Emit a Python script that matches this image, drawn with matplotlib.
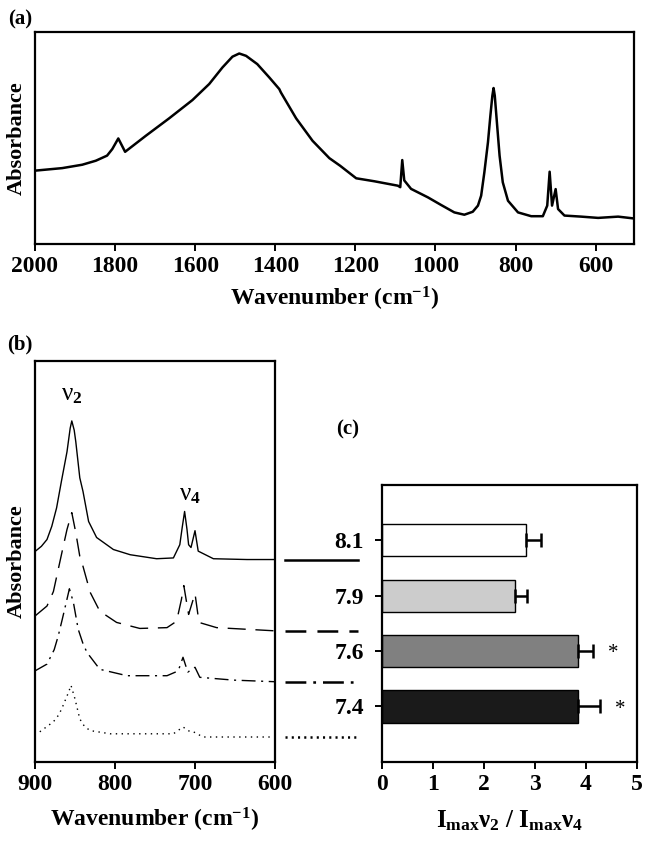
import numpy as np
import matplotlib
matplotlib.use("Agg")
import matplotlib.pyplot as plt
from matplotlib import transforms

plt.rcParams["font.family"] = ["Liberation Serif", "DejaVu Serif"]
plt.rcParams["font.weight"] = "bold"
plt.rcParams["axes.labelweight"] = "bold"
plt.rcParams["mathtext.fontset"] = "custom"
plt.rcParams["mathtext.rm"] = "Liberation Serif:bold"
plt.rcParams["mathtext.it"] = "Liberation Serif:bold"
plt.rcParams["mathtext.bf"] = "Liberation Serif:bold"
plt.rcParams["lines.scale_dashes"] = False

# === (a) full spectrum ===
a_wn = [2000, 1932, 1882, 1848, 1820, 1807, 1792, 1775, 1723, 1665, 1607, 1565,
        1532, 1507, 1490, 1473, 1445, 1415, 1390, 1386, 1348, 1307, 1265, 1238,
        1198, 1153, 1094, 1088, 1083, 1078, 1061, 1019, 986, 953, 928, 907, 894,
        886, 878, 869, 863, 858, 855, 852, 846, 840, 832, 819, 794, 761, 732, 721,
        715, 709, 700, 694, 678, 636, 594, 544, 503]
a_abs = [0.346, 0.358, 0.374, 0.393, 0.417, 0.448, 0.498, 0.435, 0.511, 0.593, 0.679, 0.755,
         0.833, 0.884, 0.899, 0.888, 0.849, 0.786, 0.731, 0.715, 0.593, 0.487, 0.405, 0.369,
         0.310, 0.296, 0.275, 0.268, 0.396, 0.300, 0.260, 0.220, 0.184, 0.149, 0.138, 0.152, 0.181,
         0.228, 0.338, 0.480, 0.605, 0.700, 0.736, 0.700, 0.558, 0.417, 0.291, 0.204, 0.149, 0.131, 0.131, 0.181,
         0.341, 0.181, 0.259, 0.165, 0.134, 0.129, 0.123, 0.129, 0.120]

# === (b) zoomed spectra at each pH (stacked) ===
wn_81 = [900, 892, 885, 879, 873, 867, 860, 856, 854, 851, 849, 844, 840, 833, 823, 802,
         781, 748, 727, 719, 716, 713, 710, 708, 705, 700, 696, 677, 635, 600]
abs_81 = [0.525, 0.538, 0.555, 0.588, 0.634, 0.700, 0.774, 0.833, 0.851, 0.828, 0.799, 0.709,
          0.675, 0.600, 0.560, 0.530, 0.517, 0.507, 0.509, 0.542, 0.585, 0.625, 0.580, 0.542,
          0.535, 0.577, 0.526, 0.507, 0.505, 0.505]
wn_79 = [900, 885, 877, 871, 865, 860, 854, 849, 844, 840, 831, 819, 798, 769, 735, 723,
         717, 714, 708, 700, 695, 673, 600]
abs_79 = [0.364, 0.389, 0.425, 0.480, 0.535, 0.580, 0.622, 0.572, 0.513, 0.488, 0.423, 0.376,
          0.348, 0.333, 0.335, 0.351, 0.405, 0.440, 0.368, 0.420, 0.348, 0.335, 0.327]
wn_76 = [900, 885, 876, 871, 866, 862, 857, 852, 846, 840, 835, 819, 785, 735, 721, 715,
         709, 700, 694, 652, 600]
abs_76 = [0.227, 0.244, 0.280, 0.314, 0.355, 0.389, 0.432, 0.398, 0.331, 0.295, 0.273, 0.231,
          0.215, 0.215, 0.227, 0.261, 0.224, 0.236, 0.211, 0.204, 0.200]
wn_74 = [894, 877, 870, 865, 858, 855, 850, 844, 838, 831, 806, 727, 715, 706, 702, 690, 600]
abs_74 = [0.075, 0.100, 0.118, 0.140, 0.174, 0.191, 0.157, 0.107, 0.088, 0.078, 0.070, 0.070,
          0.087, 0.075, 0.075, 0.062, 0.062]

# === (c) intensity ratio ===
ph_labels = ["8.1", "7.9", "7.6", "7.4"]
ratio = [2.82, 2.61, 3.85, 3.85]
ratio_err = [0.29, 0.24, 0.28, 0.43]
signif = ["", "", "*", "*"]
bar_colors = ["white", "#cccccc", "#808080", "#1a1a1a"]

spectra = [(wn_81, abs_81), (wn_79, abs_79), (wn_76, abs_76), (wn_74, abs_74)]
styles = ["-", (0, (13, 7)), (0, (10, 4, 1.5, 4)), (0, (1, 3.2))]
legend_styles = ["-", (0, (15, 8)), (0, (15, 5, 2, 5)), (0, (1.5, 3))]

fig = plt.figure(figsize=(6.48, 8.56), dpi=100)

# ---- panel (a)
ax_a = fig.add_axes([0.054, 0.715, 0.924, 0.2475])
ax_a.plot(a_wn, a_abs, color="black", lw=1.8)
ax_a.set_xlim(2000, 505)
ax_a.set_ylim(0, 1)
ax_a.set_xticks(np.arange(2000, 599, -200))
ax_a.set_yticks([])
ax_a.set_xlabel("Wavenumber (cm$^{-1}$)", fontsize=17, labelpad=6)
ax_a.set_ylabel("Absorbance", fontsize=16, labelpad=6)
fig.text(0.031, 0.977, "(a)", fontsize=15, ha="center", va="center")

# ---- panel (b)
ax_b = fig.add_axes([0.054, 0.110, 0.3704, 0.468])
for (wn, ab), ls in zip(spectra, styles):
    ax_b.plot(wn, ab, color="black", lw=1.0, linestyle=ls)
ax_b.set_xlim(900, 600)
ax_b.set_ylim(0, 1)
ax_b.set_xticks([900, 800, 700, 600])
ax_b.set_yticks([])
ax_b.set_xlabel("Wavenumber (cm$^{-1}$)", fontsize=17, labelpad=8)
ax_b.set_ylabel("Absorbance", fontsize=16, labelpad=6)
ax_b.text(854, 0.915, "ν$_2$", fontsize=18, ha="center", va="center", fontweight="normal")
ax_b.text(706, 0.665, "ν$_4$", fontsize=18, ha="center", va="center", fontweight="normal")
fig.text(0.031, 0.597, "(b)", fontsize=15, ha="center", va="center")

# ---- panel (c)
ax_c = fig.add_axes([0.5895, 0.110, 0.3935, 0.3234])
pos = np.arange(len(ph_labels))[::-1]
ax_c.barh(pos, ratio, height=0.58, color=bar_colors, edgecolor="black", lw=1.0, zorder=2)
ax_c.errorbar(ratio, pos, xerr=[np.zeros(len(ratio)), ratio_err], fmt="none",
              ecolor="black", elinewidth=1.8, capsize=5, capthick=1.8, zorder=3)
for p, r, e, s in zip(pos, ratio, ratio_err, signif):
    if s:
        ax_c.text(r + e + 0.4, p - 0.05, s, fontsize=15, ha="center", va="center", fontweight="normal")
ax_c.set_xlim(0, 5)
ax_c.set_ylim(-1, 4)
ax_c.set_xticks(range(6))
ax_c.set_yticks(pos)
ax_c.set_yticklabels(ph_labels)
ax_c.tick_params(axis="y", pad=8)
ax_c.set_xlabel("I$_{max}$ν$_2$ / I$_{max}$ν$_4$", fontsize=18, labelpad=10)
fig.text(0.537, 0.498, "(c)", fontsize=15, ha="center", va="center")

# line-style key between (b) and (c), at the level of each spectrum's tail
blend = transforms.blended_transform_factory(ax_c.transData, ax_b.transData)
for (wn, ab), ls in zip(spectra, legend_styles):
    ax_c.plot([-1.9, -0.47], [ab[-1], ab[-1]], color="black", lw=1.8, linestyle=ls,
              transform=blend, clip_on=False)

for ax in (ax_a, ax_b, ax_c):
    for sp in ax.spines.values():
        sp.set_linewidth(1.6)
    ax.tick_params(direction="out", length=5, width=1.4, labelsize=17)

fig.savefig("out.png", dpi=100)
